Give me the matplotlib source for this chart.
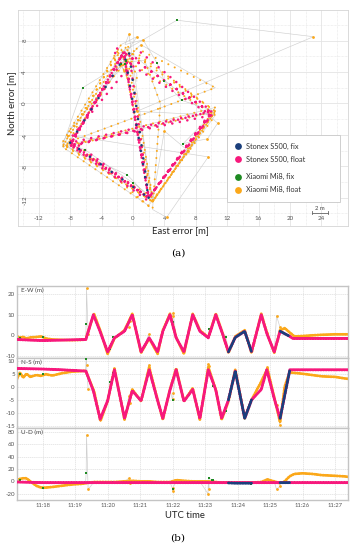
import numpy as np
import matplotlib
matplotlib.use('Agg')
import matplotlib.pyplot as plt
from matplotlib.ticker import MultipleLocator, FuncFormatter
from matplotlib.patches import Rectangle

plt.rcParams['font.family'] = ['Lato', 'DejaVu Sans']
plt.rcParams['axes.unicode_minus'] = False

# Stonex S500 track (vertices); time in minutes after 11:00
stonex_time = [17.21, 17.60, 18.00, 18.60, 19.33, 19.56, 19.77, 20.00, 20.21, 20.52,
               20.76, 21.03, 21.28, 21.54, 21.70, 21.92, 22.11, 22.35, 22.62, 22.84,
               23.10, 23.33, 23.51, 23.72, 23.93, 24.22, 24.43, 24.73, 24.90, 25.13,
               25.31, 25.61, 25.70, 27.62]
stonex_east = [-2.0, -2.3, -2.5, -2.3, -2.0, 10.0, 1.8, -8.0, -1.2, 2.0,
               10.0, -8.0, -1.2, -8.0, 2.0, 10.0, -1.2, -8.0, 10.0, 2.0,
               -1.2, 10.0, 2.0, -8.0, -1.0, 2.0, -8.0, 10.0, 1.0, -8.0,
               2.0, -0.5, -1.5, -1.5]
stonex_north = [7.0, 6.9, 6.8, 6.5, 6.0, -1.5, -12.3, -5.3, 6.5, -12.0,
                -1.5, -5.3, 6.5, -5.3, -12.0, -1.2, 6.5, -5.5, -1.0, -12.0,
                6.5, -1.2, -12.0, -5.0, 6.0, -12.0, -5.0, -1.0, 6.5, -4.5,
                -12.0, 6.5, 6.5, 6.5]
stonex_up = [-1.0, -1.5, -2.0, -2.0, -2.0, -2.0, -2.0, -2.0, -2.0, -2.0,
             -2.0, -2.0, -2.0, -2.0, -2.0, -2.0, -2.0, -2.0, -2.0, -2.0,
             -2.0, -2.0, -2.0, -2.0, -2.0, -2.0, -2.0, -2.0, -2.0, -2.0,
             -2.0, -2.0, -2.0, -2.0]

# Stonex fixed-solution stretches (nan splits them)
stonex_fix_time = [23.72, 23.93, 24.22, 24.43, np.nan, 25.31, 25.61]
stonex_fix_east = [-8.0, -1.0, 2.0, -8.0, np.nan, 2.0, -0.5]
stonex_fix_north = [-5.0, 6.0, -12.0, -5.0, np.nan, -12.0, 6.5]
stonex_fix_up = [-2.5, -3.0, -3.0, -3.0, np.nan, -2.0, -2.0]

# Xiaomi Mi8 float track
mi8_time = [17.21, 17.30, 17.40, 17.50, 17.62, 17.80, 17.95, 18.10, 18.30, 18.60,
            18.90, 19.20, 19.32, 19.58, 19.78, 20.00, 20.21, 20.52, 20.76, 21.03,
            21.28, 21.54, 21.70, 21.92, 22.11, 22.35, 22.62, 22.84, 23.10, 23.33,
            23.51, 23.72, 23.93, 24.22, 24.43, 24.73, 24.92, 25.13, 25.31, 25.45,
            25.60, 25.75, 26.00, 26.30, 26.60, 27.00, 27.30, 27.62]
mi8_east = [-0.5, -1.0, -0.8, -1.5, -1.0, -0.8, -0.5, -1.5, -2.0, -2.2,
            -2.3, -2.2, -2.0, 10.5, 2.0, -9.0, -1.5, 2.5, 10.5, -8.5,
            -1.5, -9.0, 2.5, 10.5, -1.0, -9.0, 10.5, 2.5, -1.0, 10.5,
            2.5, -8.5, -0.5, 2.5, -8.5, 10.5, 0.5, -8.5, 2.5, 3.5,
            1.5, -0.5, -0.3, 0.0, 0.3, 0.5, 0.5, 0.5]
mi8_north = [3.0, 5.5, 3.5, 5.0, 3.8, 4.5, 4.2, 4.8, 4.3, 5.2,
             5.8, 6.0, 6.2, -1.5, -13.0, -5.5, 7.0, -12.5, -1.0, -5.5,
             7.5, -5.0, -12.5, -1.0, 7.0, -5.5, -0.5, -12.5, 7.5, -1.0,
             -12.5, -5.5, 6.5, -12.0, -5.0, 2.0, 7.0, -4.0, -13.5, 0.0,
             5.5, 5.3, 5.0, 4.5, 4.0, 3.8, 3.2, 2.8]
mi8_up = [2, 4, 5, 5, 0, -7, -10, -10, -9, -7,
          -5, -4, -3, -1, -1, -1, -1, 0, 1, 0,
          0, -1, -1, -1, 2, 1, 0, 0, 0, -1,
          -2, -2, -2, -2, -2, -1, 3, 0, -3, 0,
          8, 12, 13, 12, 10, 9, 8, 6]

# Xiaomi Mi8 float outliers
mi8_out_time = [19.35, 19.40, 20.65, 20.68, 21.27, 22.00, 22.02, 23.09, 23.12, 24.90, 25.20, 25.30]
mi8_out_east = [23.0, 0.5, 4.0, 7.0, 0.5, 9.5, 10.8, -0.5, 1.3, 1.0, 9.6, 4.3]
mi8_out_north = [8.5, -1.0, -3.5, -6.0, 8.5, -4.5, -2.5, 8.8, 8.1, 7.5, -6.8, -14.5]
mi8_out_up = [75, -13, 5, -2, 0, -15, -10, -20, -13, 4, -13, -8]

# Xiaomi Mi8 fixed epochs
mi8_fix_time = [17.30, 18.00, 19.34, 20.08, 20.18, 22.00, 23.12, 23.20, 23.25, 23.65, 24.25, 24.40]
mi8_fix_east = [-1.5, -1.0, 5.6, -6.4, -0.9, 6.4, 3.1, 4.0, 6.2, -0.7, 0.0, -6.1]
mi8_fix_north = [5.0, 5.0, 10.6, 2.0, 5.4, -5.1, 5.1, 2.9, 0.4, -9.1, -10.1, -5.9]
mi8_fix_up = [3, -10, 14, -2, -1, -12, 5, 3, 2, -3, -3, -4]

legend_labels = ['Stonex S500, fix', 'Stonex S500, float', 'Xiaomi Mi8, fix', 'Xiaomi Mi8, float']

BLUE = '#1b3f7c'
PINK = '#f7197c'
GREEN = '#1e8a22'
ORANGE = '#fba81a'
GRAY = '#d0d0d0'
TICK = '#555555'

W, H = 357, 550
fig = plt.figure(figsize=(W / 100, H / 100), dpi=100)


def px_axes(left, top, right, bottom):
    return fig.add_axes([left / W, 1 - bottom / H, (right - left) / W, (bottom - top) / H])


def dotted(gap):
    return (0, (0.01, gap))


# all Xiaomi epochs in time order for the thin connecting line
all_t = np.concatenate([mi8_time, mi8_out_time, mi8_fix_time])
order = np.argsort(all_t)
all_e = np.concatenate([mi8_east, mi8_out_east, mi8_fix_east])[order]
all_n = np.concatenate([mi8_north, mi8_out_north, mi8_fix_north])[order]
all_u = np.concatenate([mi8_up, mi8_out_up, mi8_fix_up])[order]
all_t = all_t[order]

# ---- (a) horizontal scatter ----
ax = px_axes(18.3, 10, 348, 226)
ax.plot(all_e, all_n, color=GRAY, lw=0.45, zorder=1)
ax.plot(mi8_east, mi8_north, color=ORANGE, lw=1.5, ls=dotted(3.4), dash_capstyle='round', zorder=2)
ax.scatter(mi8_out_east, mi8_out_north, s=4, color=ORANGE, lw=0, zorder=2)
ax.plot(stonex_east, stonex_north, color=PINK, lw=1.9, ls=dotted(2.9), dash_capstyle='round', zorder=3)
ax.plot(stonex_fix_east, stonex_fix_north, color=BLUE, lw=1.9, ls=dotted(5.0), dash_capstyle='round', zorder=4)
ax.scatter(mi8_fix_east, mi8_fix_north, s=3.5, color=GREEN, marker='s', lw=0, zorder=5)

ax.xaxis.set_major_locator(MultipleLocator(4))
ax.xaxis.set_minor_locator(MultipleLocator(2))
ax.yaxis.set_major_locator(MultipleLocator(4))
ax.yaxis.set_minor_locator(MultipleLocator(2))
ax.grid(which='major', color='#e4e4e4', lw=0.6)
ax.grid(which='minor', color='#e4e4e4', lw=0.5, ls=(0, (1, 1)))
ax.set_axisbelow(True)
ax.tick_params(which='both', length=0)
ax.tick_params(axis='x', pad=-7.5, labelsize=4.5, labelcolor=TICK)
ax.tick_params(axis='y', pad=-6.5, labelsize=4.5, labelcolor=TICK, labelrotation=90)
for sp in ax.spines.values():
    sp.set_color('#d5d5d5')
    sp.set_linewidth(0.6)

# scale bar
ax.plot([22.8, 24.8], [-13.9, -13.9], color='#666666', lw=0.6, zorder=6)
ax.plot([22.8, 22.8], [-14.1, -13.7], color='#666666', lw=0.6, zorder=6)
ax.plot([24.8, 24.8], [-14.1, -13.7], color='#666666', lw=0.6, zorder=6)
ax.text(23.8, -13.75, '2 m', ha='center', va='bottom', fontsize=4.2, color='#444444', zorder=6)

# legend
ax.add_patch(Rectangle((0.632, 0.1125), 0.344, 0.3085, transform=ax.transAxes,
                       fc='white', ec='#c8c8c8', lw=0.6, zorder=10))
for y, lab, col in zip([0.370, 0.309, 0.228, 0.167], legend_labels, [BLUE, PINK, GREEN, ORANGE]):
    ax.scatter([0.667], [y], s=24, color=col, lw=0, transform=ax.transAxes, zorder=11)
    ax.text(0.691, y, lab, transform=ax.transAxes, va='center', fontsize=5.3, color='#333333', zorder=11)

ax.set_xlim(-14.6, 27.4)
ax.set_ylim(-15.6, 11.9)

fig.text(11.7 / W, 1 - 103 / H, 'North error [m]', rotation=90, ha='center', va='center', fontsize=6.8, color='#222222')
fig.text(180 / W, 1 - 231 / H, 'East error [m]', ha='center', va='center', fontsize=6.8, color='#222222')
fig.text(178 / W, 1 - 253 / H, '(a)', ha='center', va='center', fontsize=7.5, family='DejaVu Serif')

# ---- (b) time series ----
panels = [
    ('E-W (m)', stonex_east, stonex_fix_east, mi8_east, mi8_out_east, mi8_fix_east, all_e, (-11, 24), 10),
    ('N-S (m)', stonex_north, stonex_fix_north, mi8_north, mi8_out_north, mi8_fix_north, all_n, (-15.7, 11), 5),
    ('U-D (m)', stonex_up, stonex_fix_up, mi8_up, mi8_out_up, mi8_fix_up, all_u, (-30, 86), 20),
]
tops = [286, 358, 428]
bottoms = [358, 428, 500]

for i, (name, s_v, sf_v, m_v, mo_v, mf_v, all_v, ylim, step) in enumerate(panels):
    a = px_axes(17, tops[i], 348.3, bottoms[i])
    a.plot(all_t, all_v, color=GRAY, lw=0.5, zorder=1)
    a.plot(mi8_time, m_v, color=ORANGE, lw=2.0, ls=(0, (0.4, 0.6)), dash_capstyle='round', zorder=2)
    a.scatter(mi8_out_time, mo_v, s=4, color=ORANGE, lw=0, zorder=2)
    a.scatter(mi8_fix_time, mf_v, s=3.5, color=GREEN, marker='s', lw=0, zorder=3)
    a.plot(stonex_time, s_v, color=PINK, lw=2.1, ls=(0, (0.4, 0.5)), dash_capstyle='round', zorder=4)
    a.plot(stonex_fix_time, sf_v, color=BLUE, lw=2.0, ls=(0, (0.4, 0.6)), dash_capstyle='round', zorder=5)

    a.set_xlim(17.21, 27.41)
    a.set_ylim(*ylim)
    a.xaxis.set_major_locator(MultipleLocator(1))
    a.yaxis.set_major_locator(MultipleLocator(step))
    a.grid(color='#dedede', lw=0.5, ls=(0, (2, 1)))
    a.set_axisbelow(True)
    a.tick_params(length=0, labelsize=4.5, labelcolor=TICK, pad=1.5)
    if i < 2:
        a.tick_params(labelbottom=False)
    else:
        a.xaxis.set_major_formatter(FuncFormatter(lambda v, p: '11:%02d' % round(v)))
        a.tick_params(axis='x', labelsize=4.2, pad=2.5)
    for sp in a.spines.values():
        sp.set_color('#c4c4c4')
        sp.set_linewidth(1.0)
    a.text(0.012, 0.975, name, transform=a.transAxes, va='top', ha='left', fontsize=4.5, color='#444444')

fig.text(185 / W, 1 - 515 / H, 'UTC time', ha='center', va='center', fontsize=6.8, color='#222222')
fig.text(178 / W, 1 - 538 / H, '(b)', ha='center', va='center', fontsize=7.5, family='DejaVu Serif')

fig.savefig('out.png', dpi=100)
